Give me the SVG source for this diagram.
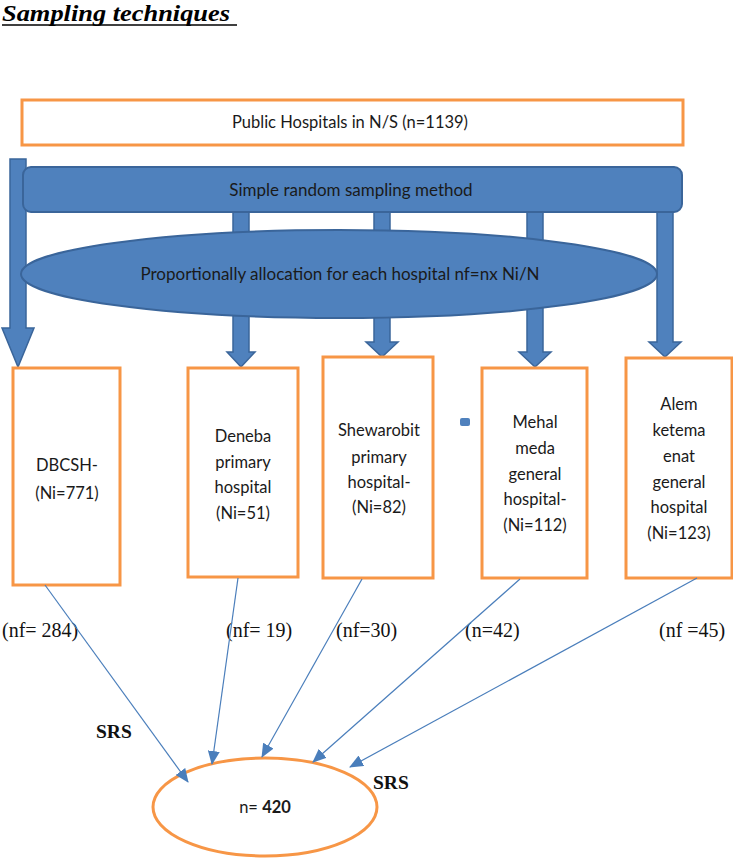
<svg xmlns="http://www.w3.org/2000/svg" width="733" height="859" viewBox="0 0 733 859">
<defs>
<style>
.ob{fill:#fff;stroke:#F79646;stroke-width:3}
.bl{fill:#4F81BD;stroke:#3A659A;stroke-width:2}
.ar{fill:#4F81BD;stroke:#3A659A;stroke-width:1.5}
.t{font-family:Lato,"Liberation Sans",sans-serif;font-size:16.5px;fill:#1a1a1a;text-anchor:middle}
.s{font-family:"Liberation Serif",serif;font-size:20px;fill:#111}
.srs{font-family:"Liberation Serif",serif;font-size:19.5px;font-weight:bold;fill:#111}
.cn{stroke:#4A7EBB;stroke-width:1.2;fill:none;marker-end:url(#ah)}
</style>
<marker id="ah" markerUnits="userSpaceOnUse" markerWidth="14" markerHeight="12" refX="13" refY="6" orient="auto">
<path d="M0,0 L14,6 L0,12 z" fill="#4A7EBB"/>
</marker>
</defs>
<rect width="733" height="859" fill="#fff"/>
<g id="title">
<text x="2" y="21" font-family="Liberation Serif,serif" font-size="23" font-weight="bold" font-style="italic" fill="#000" textLength="228" lengthAdjust="spacingAndGlyphs">Sampling techniques</text>
<line x1="2" y1="25" x2="237" y2="25" stroke="#000" stroke-width="1.5"/>
</g>
<g id="top">
<rect class="ob" x="22" y="100" width="661" height="45"/>
<text class="t" x="350" y="128">Public Hospitals in N/S (n=1139)</text>
</g>
<g id="arrows">
<polygon class="ar" points="10,159 26,159 26,328 34,328 18,367 2,328 10,328"/>
<polygon class="ar" points="233,212 249,212 249,352 255,352 241,367 227,352 233,352"/>
<polygon class="ar" points="374,212 390,212 390,342 398,342 382,357 366,342 374,342"/>
<polygon class="ar" points="527,212 543,212 543,352 551,352 535,367 519,352 527,352"/>
<polygon class="ar" points="657,212 673,212 673,342 681,342 665,357 649,342 657,342"/>
</g>
<g id="bar">
<rect class="bl" x="23" y="167" width="659" height="45" rx="8"/>
<text class="t" x="351" y="196" style="font-size:17px">Simple random sampling method</text>
</g>
<g id="alloc">
<ellipse class="bl" cx="339" cy="274" rx="318" ry="44"/>
<text class="t" x="340" y="280" style="font-size:17px">Proportionally allocation for each hospital nf=nx Ni/N</text>
</g>
<g id="dbcsh">
<rect class="ob" x="13" y="368" width="107" height="217"/>
<text class="t" x="67" y="471">DBCSH-</text>
<text class="t" x="67" y="499">(Ni=771)</text>
</g>
<g id="deneba">
<rect class="ob" x="188" y="368" width="110" height="209"/>
<text class="t" x="243" y="442">Deneba</text>
<text class="t" x="243" y="468">primary</text>
<text class="t" x="243" y="493">hospital</text>
<text class="t" x="243" y="519">(Ni=51)</text>
</g>
<g id="shewarobit">
<rect class="ob" x="323" y="357" width="110" height="221"/>
<text class="t" x="379" y="436">Shewarobit</text>
<text class="t" x="379" y="463">primary</text>
<text class="t" x="379" y="488">hospital-</text>
<text class="t" x="379" y="513">(Ni=82)</text>
</g>
<rect x="460" y="418" width="10" height="8" rx="2" fill="#4F81BD"/>
<g id="mehal">
<rect class="ob" x="482" y="368" width="105" height="210"/>
<text class="t" x="535" y="428">Mehal</text>
<text class="t" x="535" y="454">meda</text>
<text class="t" x="535" y="480">general</text>
<text class="t" x="535" y="505">hospital-</text>
<text class="t" x="535" y="531">(Ni=112)</text>
</g>
<g id="alem">
<rect class="ob" x="626" y="358" width="106" height="220"/>
<text class="t" x="679" y="410">Alem</text>
<text class="t" x="679" y="436">ketema</text>
<text class="t" x="679" y="462">enat</text>
<text class="t" x="679" y="488">general</text>
<text class="t" x="679" y="513">hospital</text>
<text class="t" x="679" y="539">(Ni=123)</text>
</g>
<g id="labels">
<text class="s" x="2" y="637">(nf= 284)</text>
<text class="s" x="226" y="637">(nf= 19)</text>
<text class="s" x="336" y="637">(nf=30)</text>
<text class="s" x="465" y="637">(n=42)</text>
<text class="s" x="659" y="637">(nf =45)</text>
<text class="srs" x="96" y="738">SRS</text>
<text class="srs" x="373" y="789">SRS</text>
</g>
<g id="total">
<ellipse class="ob" cx="265" cy="807" rx="112" ry="49"/>
<text class="t" x="265" y="813"><tspan>n= </tspan><tspan font-weight="bold">420</tspan></text>
</g>
<g id="connectors">
<line class="cn" x1="45" y1="585" x2="188" y2="782"/>
<line class="cn" x1="238" y1="578" x2="212" y2="764"/>
<line class="cn" x1="362" y1="579" x2="262" y2="757"/>
<line class="cn" x1="520" y1="579" x2="313" y2="762"/>
<line class="cn" x1="697" y1="578" x2="350" y2="767"/>
</g>
</svg>
